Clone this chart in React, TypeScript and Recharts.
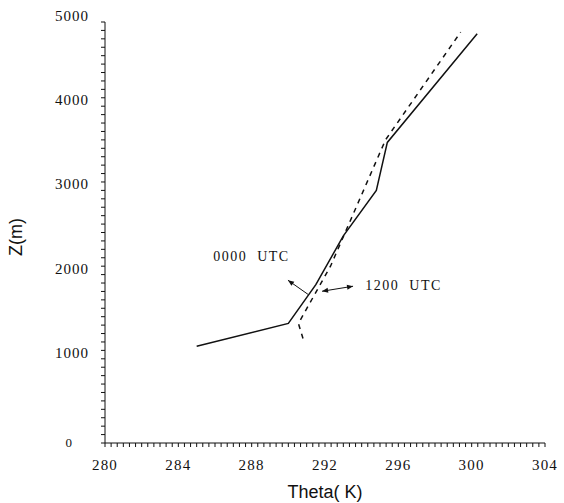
import React from 'react';
import { LineChart, Line, XAxis, YAxis, ReferenceLine, ReferenceDot } from 'recharts';

const theta0000 = [285.0, 290.0, 291.5, 293.0, 294.8, 295.4, 300.3];
const z0000 = [1150, 1420, 1880, 2460, 3000, 3570, 4860];
const theta1200 = [290.8, 290.55, 292.3, 295.3, 299.4];
const z1200 = [1240, 1420, 2100, 3600, 4880];

const xMajor = [280, 284, 288, 292, 296, 300, 304];
const yMajor = [0, 1000, 2000, 3000, 4000, 5000];

const xTicks: number[] = [];
for (let i = 0; i <= 72; i++) xTicks.push(280 + i / 3);
const yTicks: number[] = [];
for (let i = 0; i <= 50; i++) yTicks.push(i * 100);

const series0000 = theta0000.map((t, i) => ({ theta: t, z: z0000[i] }));
const series1200 = theta1200.map((t, i) => ({ theta: t, z: z1200[i] }));

const serif = '"Liberation Serif", "DejaVu Serif", serif';
const sans = '"Liberation Sans", Arial, sans-serif';

const isMajor = (v: number, list: number[]) => list.some((m) => Math.abs(m - v) < 1e-6);

const XTick = (props: any) => {
  const { x, y, payload } = props;
  if (!isMajor(payload.value, xMajor)) return null;
  return (
    <text x={x} y={y + 21} textAnchor="middle" fontFamily={serif} fontSize={15} letterSpacing={1.2} fill="#111">
      {Math.round(payload.value)}
    </text>
  );
};

const YTick = (props: any) => {
  const { x, y, payload } = props;
  if (!isMajor(payload.value, yMajor)) return null;
  const v = Math.round(payload.value);
  return (
    <text
      x={v === 0 ? x - 26 : x - 10}
      y={v === 0 ? y + 4 : y - 1}
      textAnchor="end"
      fontFamily={serif}
      fontSize={v === 0 ? 13 : 15}
      letterSpacing={1}
      fill="#111"
    >
      {v}
    </text>
  );
};

const Arrow = (props: any) => {
  const { x1, y1, x2, y2, both } = props;
  const head = (ax: number, ay: number, bx: number, by: number) => {
    const ang = Math.atan2(by - ay, bx - ax);
    const len = 6;
    const w = 2.5;
    const p1x = bx - len * Math.cos(ang) + w * Math.sin(ang);
    const p1y = by - len * Math.sin(ang) - w * Math.cos(ang);
    const p2x = bx - len * Math.cos(ang) - w * Math.sin(ang);
    const p2y = by - len * Math.sin(ang) + w * Math.cos(ang);
    return <polygon points={`${bx},${by} ${p1x},${p1y} ${p2x},${p2y}`} fill="#111" />;
  };
  return (
    <g>
      <line x1={x1} y1={y1} x2={x2} y2={y2} stroke="#111" strokeWidth={1} />
      {head(x1, y1, x2, y2)}
      {both ? head(x2, y2, x1, y1) : null}
    </g>
  );
};

const Label = (text: string) => (props: any) => (
  <text
    x={props.cx}
    y={props.cy + 5}
    fontFamily={serif}
    fontSize={14}
    letterSpacing={1.5}
    wordSpacing={5}
    fill="#111"
  >
    {text}
  </text>
);

export default function App() {
  return (
    <div style={{ position: 'absolute', left: 0, top: 0, width: 564, height: 503, background: '#fff' }}>
      <LineChart
        width={564}
        height={503}
        margin={{ top: 22, right: 19, left: 0, bottom: 0 }}
      >
        <XAxis
          type="number"
          dataKey="theta"
          domain={[280, 304]}
          ticks={xTicks}
          interval={0}
          tick={<XTick />}
          tickSize={4}
          stroke="#111"
          height={60}
          allowDataOverflow
        />
        <YAxis
          type="number"
          dataKey="z"
          domain={[0, 5000]}
          ticks={yTicks}
          interval={0}
          tick={<YTick />}
          tickSize={4}
          stroke="#111"
          width={105}
          allowDataOverflow
        />
        <Line
          data={series0000}
          dataKey="z"
          type="linear"
          stroke="#111"
          strokeWidth={1.5}
          dot={false}
          isAnimationActive={false}
        />
        <Line
          data={series1200}
          dataKey="z"
          type="linear"
          stroke="#111"
          strokeWidth={1.5}
          strokeDasharray="5 5"
          dot={false}
          isAnimationActive={false}
        />
        <ReferenceLine
          segment={[{ x: 291.07, y: 1766 }, { x: 289.98, y: 1933 }]}
          shape={(p: any) => <Arrow {...p} />}
        />
        <ReferenceLine
          segment={[{ x: 291.84, y: 1802 }, { x: 293.53, y: 1862 }]}
          shape={(p: any) => <Arrow {...p} both />}
        />
        <ReferenceDot x={285.9} y={2220} r={0} shape={Label('0000 UTC')} />
        <ReferenceDot x={294.2} y={1873} r={0} shape={Label('1200 UTC')} />
      </LineChart>
      <div
        style={{
          position: 'absolute',
          left: -2,
          top: 237,
          transform: 'translate(0, -50%) rotate(-90deg)',
          transformOrigin: 'center',
          fontFamily: sans,
          fontSize: 18,
          color: '#111',
        }}
      >
        Z(m)
      </div>
      <div
        style={{
          position: 'absolute',
          left: 325,
          top: 482,
          transform: 'translateX(-50%)',
          fontFamily: sans,
          fontSize: 18,
          color: '#111',
          whiteSpace: 'nowrap',
        }}
      >
        Theta( K)
      </div>
    </div>
  );
}
